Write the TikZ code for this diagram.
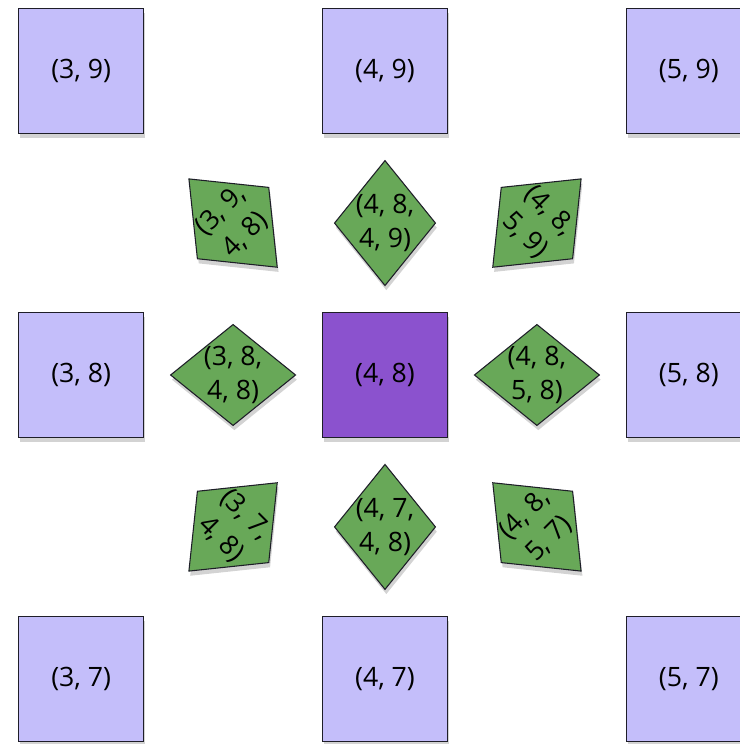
\documentclass[tikz,border=0pt]{standalone}
\usepackage{fontspec}
\setmainfont{Open Sans}
\usepackage{tikz}
\usetikzlibrary{shapes.geometric,positioning,calc,shadows}
\definecolor{lilac}{RGB}{196,190,250}
\definecolor{plum}{RGB}{139,82,206}
\definecolor{leaf}{RGB}{104,168,88}
\definecolor{rim}{RGB}{30,30,40}

\begin{document}
\begin{tikzpicture}[
  x=0.75pt, y=0.75pt,
  font=\fontsize{20}{26}\selectfont,
  cell/.style={draw=rim, line width=0.9pt, fill=lilac, minimum size=94pt, inner sep=0pt,
    drop shadow={shadow xshift=1pt, shadow yshift=-3.5pt, opacity=0.35}},
  home/.style={cell, fill=plum},
  rhomb/.style={diamond, draw=rim, line width=0.8pt, fill=leaf, minimum width=76pt, minimum height=94pt, inner sep=0pt,
    drop shadow={shadow xshift=1pt, shadow yshift=-3.5pt, opacity=0.35}},
  tag/.style={align=center, inner sep=0pt}
]
\useasboundingbox (0,0) rectangle (740,744);
\clip (0,0) rectangle (740,744);
% grid cells
\node[home] (c48) at (385,369) {(4, 8)};
\node[cell, above=133pt of c48] (c49) {(4, 9)};
\node[cell, below=133pt of c48] (c47) {(4, 7)};
\node[cell, left=133pt of c48] (c38) {(3, 8)};
\node[cell, right=133pt of c48] (c58) {(5, 8)};
\node[cell, above=133pt of c38] (c39) {(3, 9)};
\node[cell, below=133pt of c38] (c37) {(3, 7)};
\node[cell, above=133pt of c58] (c59) {(5, 9)};
\node[cell, below=133pt of c58] (c57) {(5, 7)};
% edges as diamonds
\node[rhomb] (e49) at ($(c48)!.5!(c49)$) {};
\node[rhomb] (e47) at ($(c48)!.5!(c47)$) {};
\node[rhomb, rotate=90] (e38) at ($(c48)!.5!(c38)$) {};
\node[rhomb, rotate=90] (e58) at ($(c48)!.5!(c58)$) {};
\node[rhomb, rotate=45] (e39) at ($(c48)!.5!(c39)$) {};
\node[rhomb, rotate=-45] (e59) at ($(c48)!.5!(c59)$) {};
\node[rhomb, rotate=-45] (e37) at ($(c48)!.5!(c37)$) {};
\node[rhomb, rotate=45] (e57) at ($(c48)!.5!(c57)$) {};
\node[tag] (t49) at (e49) {(4, 8,\\4, 9)};
\node[tag] (t47) at (e47) {(4, 7,\\4, 8)};
\node[tag] (t38) at (e38) {(3, 8,\\4, 8)};
\node[tag] (t58) at (e58) {(4, 8,\\5, 8)};
\node[tag, rotate=45] (t39) at (e39) {(3, 9,\\4, 8)};
\node[tag, rotate=-45] (t59) at (e59) {(4, 8,\\5, 9)};
\node[tag, rotate=-45] (t37) at (e37) {(3, 7,\\4, 8)};
\node[tag, rotate=45] (t57) at (e57) {(4, 8,\\5, 7)};
\end{tikzpicture}
\end{document}
